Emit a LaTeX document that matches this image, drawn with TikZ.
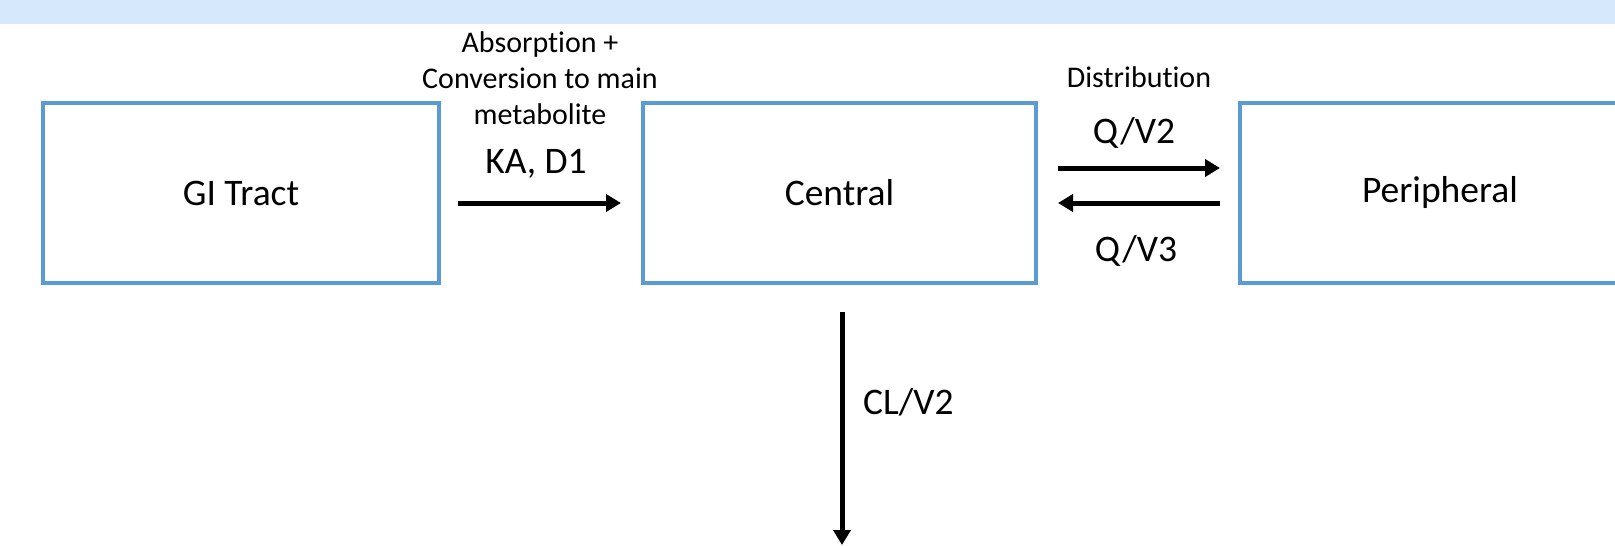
\documentclass[tikz,border=0pt]{standalone}
\usepackage{fontspec}
\setmainfont{Carlito}[Ligatures=NoCommon]
\usetikzlibrary{arrows.meta}
\definecolor{boxblue}{RGB}{91,155,213}
\definecolor{bandblue}{RGB}{214,233,252}
\tikzset{
  compbox/.style={draw=boxblue, line width=4pt, fill=white, inner sep=0pt, font=\fontsize{37.5}{45}\selectfont},
  biglabel/.style={inner sep=0pt, font=\fontsize{37.5}{45}\selectfont},
  smalllabel/.style={inner sep=0pt, align=center, font=\fontsize{30}{36}\selectfont},
  flow/.style={line width=5pt, -{Triangle[length=15pt,width=17pt]}},
}
\begin{document}
\begin{tikzpicture}[x=1pt,y=-1pt]
\useasboundingbox (0,0) rectangle (1615,546);
\clip (0,0) rectangle (1615,546);
\fill[bandblue] (0,0) rectangle (1615,24);
\node[compbox, minimum width=396pt, minimum height=180pt] (gi) at (241,193) {GI Tract};
\node[compbox, minimum width=393pt, minimum height=180pt] (central) at (839.5,193) {Central};
\node[compbox, minimum width=400pt, minimum height=180pt] (periph) at (1440,193) {Peripheral};
\coordinate (sink) at (842,546);
\draw[flow, shorten <=17pt, shorten >=20pt] ([yshift=-10pt]gi.east) -- ([yshift=-10pt]central.west);
\draw[flow, shorten <=20pt, shorten >=18pt] ([yshift=25pt]central.east) -- ([yshift=25pt]periph.west);
\draw[flow, shorten <=18pt, shorten >=20pt] ([yshift=-10pt]periph.west) -- ([yshift=-10pt]central.east);
\draw[flow, shorten <=27pt, shorten >=1pt] ([xshift=2.5pt]central.south) -- (sink);
\node[smalllabel] (abs) at (540,78) {Absorption +\\Conversion to main\\metabolite};
\node[biglabel] (ka) at (536,164) {KA, D1};
\node[smalllabel] (dist) at (1139,77) {Distribution};
\node[biglabel] (qv2) at (1134,133) {Q/V2};
\node[biglabel] (qv3) at (1136,251) {Q/V3};
\node[biglabel, anchor=west] (clv2) at (863,402) {CL/V2};
\end{tikzpicture}
\end{document}
